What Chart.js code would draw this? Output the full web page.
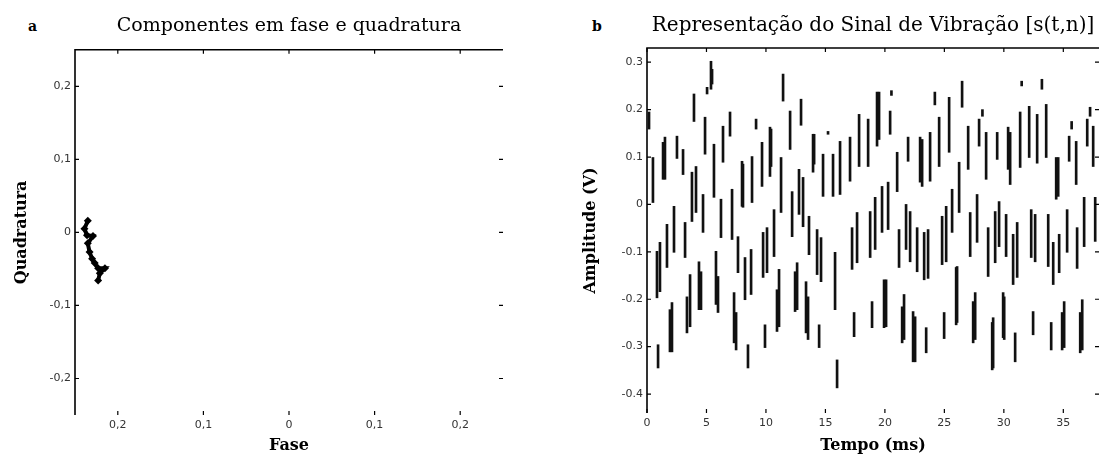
<!DOCTYPE html>
<html>
<head>
<meta charset="utf-8">
<script src="https://cdn.jsdelivr.net/npm/chart.js@4.4.1/dist/chart.umd.min.js"></script>
<style>
  body { margin: 0; background: #fff; width: 1100px; height: 466px; position: relative; overflow: hidden; }
  canvas { position: absolute; top: 0; }
  .tag { position: absolute; font: bold 14px 'DejaVu Serif', serif; color: #000; }
</style>
</head>
<body>
<div class="tag" style="left:28px;top:18px">a</div>
<div class="tag" style="left:592px;top:18px">b</div>
<canvas id="fase" width="530" height="466" style="left:0"></canvas>
<canvas id="sinal" width="540" height="466" style="left:560px"></canvas>
<script>
  // painel a: componentes em fase e quadratura
  const faseX = [-0.235, -0.239, -0.236, -0.229, -0.235, -0.233, -0.230, -0.227, -0.223, -0.215, -0.221, -0.223];
  const quadY = [0.016, 0.005, -0.004, -0.005, -0.015, -0.027, -0.036, -0.042, -0.049, -0.049, -0.056, -0.066];
  const faseTicks = [-0.2, -0.1, 0, 0.1, 0.2];
  const faseTickLabels = ['0,2', '0,1', '0', '0,1', '0,2'];
  const quadTicks = [0.2, 0.1, 0, -0.1, -0.2];
  const quadTickLabels = ['0,2', '0,1', '0', '-0,1', '-0,2'];

  // painel b: sinal de vibracao, cada traço vertical vai de ampMin a ampMax
  const tempoMs = [
    0.17, 0.50, 1.35, 1.51, 2.52, 3.03, 3.78, 3.95, 4.12, 4.71, 4.88, 5.05, 5.38, 5.47, 5.63, 6.22,
    6.39, 6.98, 7.15, 7.99, 8.07, 8.83, 9.17, 9.67, 9.76, 10.09, 10.34, 10.43, 10.68, 11.27, 11.44, 12.03,
    12.20, 12.78, 12.95, 13.12, 13.62, 13.96, 14.05, 14.30, 14.63, 14.80, 15.22, 15.64, 16.23, 17.07, 17.24, 17.66,
    17.83, 18.59, 18.76, 19.18, 19.34, 19.51, 19.76, 20.27, 20.44, 20.55, 21.03, 21.19, 21.78, 21.95, 22.12, 22.71,
    22.96, 23.13, 23.30, 23.63, 23.80, 24.20, 24.56, 24.81, 25.15, 25.40, 25.65, 26.24, 26.49, 27.00, 27.17, 27.75,
    27.92, 28.20, 28.51, 28.68, 29.27, 29.44, 29.60, 30.19, 30.36, 30.53, 30.78, 31.12, 31.37, 31.50, 32.13, 32.30,
    32.63, 32.80, 33.20, 33.56, 33.73, 34.15, 34.40, 34.57, 34.65, 35.32, 35.49, 35.70, 36.08, 36.16, 36.75, 37.01,
    37.25, 37.51, 37.68,
    0.84, 0.93, 1.09, 1.68, 1.93, 2.10, 2.27, 3.20, 3.36, 3.62, 4.37, 4.54, 5.80, 5.97, 7.32, 7.49,
    7.65, 8.24, 8.49, 8.75, 9.92, 10.93, 11.10, 12.45, 12.62, 13.37, 13.54, 14.47, 15.81, 15.98, 17.41, 18.92,
    19.93, 20.10, 21.45, 21.61, 22.37, 22.54, 23.47, 24.98, 25.99, 26.07, 27.42, 27.59, 29.02, 29.10, 29.94, 30.03,
    30.95, 32.46, 33.98, 34.90, 35.07, 36.42, 36.59
  ];
  const ampMax = [
    0.195, 0.099, 0.131, 0.142, 0.144, 0.116, 0.068, 0.233, 0.080, 0.021, 0.184, 0.247, 0.302, 0.285, 0.127, 0.011,
    0.165, 0.195, 0.032, 0.091, 0.085, 0.101, 0.180, 0.131, -0.059, -0.049, 0.163, 0.159, -0.011, 0.099, 0.275, 0.197,
    0.027, 0.074, 0.222, 0.057, -0.025, 0.148, 0.148, -0.053, -0.070, 0.106, 0.154, 0.106, 0.133, 0.142, -0.049, -0.017,
    0.190, 0.180, -0.015, 0.015, 0.237, 0.237, 0.038, 0.047, 0.197, 0.240, 0.110, -0.053, 0.000, 0.142, -0.015, -0.049,
    0.142, 0.137, -0.059, -0.053, 0.152, 0.237, 0.184, -0.025, -0.004, 0.226, 0.032, 0.089, 0.260, 0.165, -0.017, 0.021,
    0.180, 0.200, 0.152, -0.049, -0.015, 0.152, 0.006, -0.021, 0.163, 0.152, -0.063, -0.038, 0.195, 0.260, 0.207, -0.011,
    -0.021, 0.190, 0.264, 0.211, -0.021, -0.080, 0.099, 0.099, -0.063, -0.011, 0.144, 0.175, 0.133, -0.049, 0.015, 0.180,
    0.205, 0.165, 0.015,
    -0.099, -0.296, -0.080, -0.042, -0.222, -0.207, -0.004, -0.038, -0.195, -0.148, -0.121, -0.142, -0.099, -0.152, -0.186, -0.228,
    -0.068, -0.112, -0.296, -0.095, -0.254, -0.180, -0.137, -0.142, -0.123, -0.163, -0.195, -0.254, -0.101, -0.328, -0.228, -0.205,
    -0.159, -0.159, -0.216, -0.190, -0.226, -0.237, -0.260, -0.228, -0.133, -0.131, -0.205, -0.186, -0.249, -0.239, -0.186, -0.195,
    -0.271, -0.226, -0.249, -0.228, -0.205, -0.228, -0.201
  ];
  const ampMin = [
    0.159, 0.004, 0.053, 0.053, 0.097, 0.063, -0.036, 0.175, -0.017, -0.059, 0.106, 0.233, 0.243, 0.254, 0.015, -0.070,
    0.089, 0.144, -0.074, -0.004, -0.006, 0.004, 0.159, 0.038, -0.154, -0.144, 0.059, 0.080, -0.110, -0.017, 0.218, 0.116,
    -0.068, -0.021, 0.167, -0.047, -0.106, 0.068, 0.085, -0.148, -0.163, 0.017, 0.148, 0.017, 0.021, 0.049, -0.137, -0.123,
    0.080, 0.080, -0.112, -0.095, 0.123, 0.137, -0.059, -0.053, 0.148, 0.230, 0.027, -0.133, -0.095, 0.091, -0.121, -0.142,
    0.047, 0.038, -0.159, -0.156, 0.049, 0.210, 0.080, -0.127, -0.121, 0.110, -0.059, -0.017, 0.205, 0.074, -0.110, -0.080,
    0.123, 0.186, 0.053, -0.152, -0.123, 0.095, -0.089, -0.110, 0.074, 0.042, -0.169, -0.154, 0.078, 0.250, 0.099, -0.112,
    -0.121, 0.087, 0.243, 0.099, -0.131, -0.169, 0.011, 0.017, -0.144, -0.101, 0.091, 0.159, 0.042, -0.135, -0.089, 0.123,
    0.186, 0.080, -0.078,
    -0.197, -0.345, -0.184, -0.133, -0.311, -0.311, -0.101, -0.112, -0.271, -0.258, -0.222, -0.222, -0.211, -0.228, -0.292, -0.307,
    -0.144, -0.201, -0.345, -0.190, -0.302, -0.268, -0.258, -0.226, -0.222, -0.271, -0.285, -0.302, -0.222, -0.387, -0.279, -0.260,
    -0.260, -0.258, -0.292, -0.285, -0.332, -0.332, -0.313, -0.283, -0.254, -0.249, -0.292, -0.285, -0.349, -0.345, -0.281, -0.285,
    -0.332, -0.275, -0.307, -0.307, -0.302, -0.313, -0.307
  ];
  const tempoTicks = [0, 5, 10, 15, 20, 25, 30, 35];
  const tempoTickLabels = ['0', '5', '10', '15', '20', '25', '30', '35'];
  const ampTicks = [0.3, 0.2, 0.1, 0, -0.1, -0.2, -0.3, -0.4];
  const ampTickLabels = ['0.3', '0.2', '0.1', '0', '-0.1', '-0.2', '-0.3', '-0.4'];

  // moldura estilo matlab: linha em cima e à esquerda, marcas para dentro
  const moldura = {
    id: 'moldura',
    afterDraw(chart) {
      const { ctx, chartArea: a, scales } = chart;
      ctx.save();
      ctx.strokeStyle = '#000';
      ctx.lineWidth = 1.6;
      ctx.beginPath();
      ctx.moveTo(a.left, a.bottom);
      ctx.lineTo(a.left, a.top);
      ctx.lineTo(a.right, a.top);
      ctx.stroke();
      ctx.lineWidth = 1.2;
      ctx.beginPath();
      scales.x.ticks.forEach(t => {
        const p = scales.x.getPixelForValue(t.value);
        ctx.moveTo(p, a.top); ctx.lineTo(p, a.top + 4);
        ctx.moveTo(p, a.bottom); ctx.lineTo(p, a.bottom - 4);
      });
      scales.y.ticks.forEach(t => {
        const p = scales.y.getPixelForValue(t.value);
        ctx.moveTo(a.left, p); ctx.lineTo(a.left + 4, p);
        ctx.moveTo(a.right, p); ctx.lineTo(a.right - 4, p);
      });
      ctx.stroke();
      ctx.restore();
    }
  };

  const serif = 'DejaVu Serif';
  const tickFont = { family: 'DejaVu Sans', size: 11 };

  function eixo(min, max, values, labels, extra) {
    return Object.assign({
      type: 'linear', min, max, offset: false,
      grid: { display: false, drawTicks: false },
      border: { display: false },
      afterBuildTicks: s => { s.ticks = values.map(v => ({ value: v })); },
      ticks: {
        font: tickFont, color: '#333', padding: 4, autoSkip: false, maxRotation: 0,
        callback: (v, i) => labels[i]
      }
    }, extra);
  }

  new Chart(document.getElementById('fase'), {
    type: 'scatter',
    data: {
      datasets: [{
        data: faseX.map((x, i) => ({ x, y: quadY[i] })),
        showLine: true,
        borderColor: '#000',
        backgroundColor: '#000',
        borderWidth: 4,
        pointStyle: 'rectRot',
        pointRadius: 4,
        pointBorderWidth: 0
      }]
    },
    options: {
      responsive: false,
      animation: false,
      layout: { padding: { left: 12, right: 27, top: 0, bottom: 0 } },
      plugins: {
        legend: { display: false },
        tooltip: { enabled: false },
        title: {
          display: true, fullSize: false, text: 'Componentes em fase e quadratura',
          color: '#000', font: { family: serif, size: 19, weight: 'normal' },
          padding: { top: 15, bottom: 12 }
        }
      },
      scales: {
        x: eixo(-0.25, 0.25, faseTicks, faseTickLabels, {
          afterFit: s => { s.height = 51; },
          title: { display: true, text: 'Fase', color: '#000', font: { family: serif, size: 16, weight: 'bold' }, padding: { top: 0, bottom: 11 } }
        }),
        y: eixo(-0.25, 0.25, quadTicks, quadTickLabels, {
          afterFit: s => { s.width = 63; },
          title: { display: true, text: 'Quadratura', color: '#000', font: { family: serif, size: 16, weight: 'bold' }, padding: 0 }
        })
      }
    },
    plugins: [moldura]
  });

  new Chart(document.getElementById('sinal'), {
    type: 'bar',
    data: {
      datasets: [{
        data: tempoMs.map((t, i) => ({ x: t, y: [ampMin[i], ampMax[i]] })),
        backgroundColor: '#111',
        borderWidth: 0,
        barThickness: 2,
        grouped: false
      }]
    },
    options: {
      responsive: false,
      animation: false,
      layout: { padding: { left: 21, right: 1, top: 0, bottom: 0 } },
      plugins: {
        legend: { display: false },
        tooltip: { enabled: false },
        title: {
          display: true, fullSize: false, text: 'Representação do Sinal de Vibração [s(t,n)]',
          color: '#000', font: { family: serif, size: 20, weight: 'normal' },
          padding: { top: 14, bottom: 10 }
        }
      },
      scales: {
        x: eixo(0, 38, tempoTicks, tempoTickLabels, {
          afterFit: s => { s.height = 53; },
          title: { display: true, text: 'Tempo (ms)', color: '#000', font: { family: serif, size: 16, weight: 'bold' }, padding: { top: 0, bottom: 11 } }
        }),
        y: eixo(-0.44, 0.33, ampTicks, ampTickLabels, {
          afterFit: s => { s.width = 66; },
          title: { display: true, text: 'Amplitude (V)', color: '#000', font: { family: serif, size: 16, weight: 'bold' }, padding: 0 }
        })
      }
    },
    plugins: [moldura]
  });
</script>
</body>
</html>
